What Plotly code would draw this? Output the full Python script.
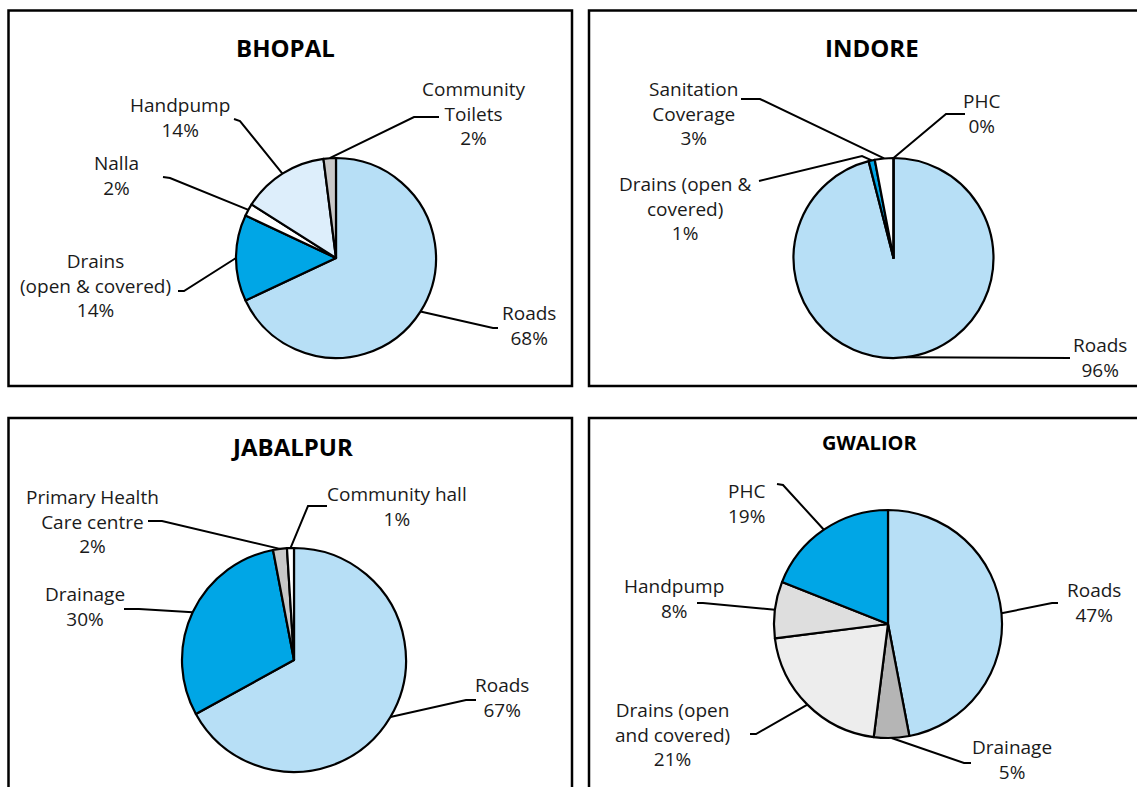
import math
import plotly.graph_objects as go

W, H = 1137, 787

# ---- data -------------------------------------------------------------
bhopal_cats = ["Roads", "Drains<br>(open & covered)", "Nalla", "Handpump", "Community<br>Toilets"]
bhopal_vals = [68, 14, 2, 14, 2]

indore_cats = ["Roads", "Drains (open &<br>covered)", "Sanitation<br>Coverage", "PHC"]
indore_vals = [96, 1, 3, 0]

jabalpur_cats = ["Roads", "Drainage", "Primary Health<br>Care centre", "Community hall"]
jabalpur_vals = [67, 30, 2, 1]

gwalior_cats = ["Roads", "Drainage", "Drains (open<br>and covered)", "Handpump", "PHC"]
gwalior_vals = [47, 5, 21, 8, 19]

# ---- styling / layout -------------------------------------------------
LIGHT_BLUE = "#b7dff6"
BLUE = "#00a6e6"
PALE_BLUE = "#ddeefb"
GREY = "#c8c8c8"

FONT = "Open Sans"
TXT = "#1a1a1a"
LABEL_SIZE = 19

panels = [
    dict(title="BHOPAL", tsize=24, tpos=(285, 47), c=(336, 258), r=100,
         cats=bhopal_cats, vals=bhopal_vals,
         colors=[LIGHT_BLUE, BLUE, "white", PALE_BLUE, GREY],
         labels=[((529, 325), [(498, 328), (493, 328)]),
                 ((95, 285), [(178, 291), (184, 291)]),
                 ((116, 175), [(163, 177), (170, 178)]),
                 ((180, 117), [(234, 119), (240, 121)]),
                 ((473, 113), [(439, 117), (414, 117)])]),
    dict(title="INDORE", tsize=24, tpos=(872, 47), c=(893.5, 258), r=100,
         cats=indore_cats, vals=indore_vals,
         colors=[LIGHT_BLUE, BLUE, "white", GREY],
         labels=[((1100, 357), [(1070, 358)]),
                 ((685, 208), [(759, 181), (862, 156)]),
                 ((693, 113), [(741, 99), (760, 99)]),
                 ((981, 113), [(965, 114), (946, 114)])]),
    dict(title="JABALPUR", tsize=24, tpos=(292, 446), c=(294, 660), r=112,
         cats=jabalpur_cats, vals=jabalpur_vals,
         colors=[LIGHT_BLUE, BLUE, GREY, "white"],
         labels=[((502, 697), [(476, 700), (466, 700)]),
                 ((85, 606), [(124, 609), (139, 609)]),
                 ((92, 521), [(148, 521), (162, 521)]),
                 ((397, 506), [(327, 506), (308, 506)])]),
    dict(title="GWALIOR", tsize=20, tpos=(869, 442), c=(888, 624), r=114,
         cats=gwalior_cats, vals=gwalior_vals,
         colors=[LIGHT_BLUE, "#b5b5b5", "#ededed", "#dedede", BLUE],
         labels=[((1094, 602), [(1058, 603), (1052, 603)]),
                 ((1012, 759), [(971, 763), (964, 763)]),
                 ((672, 734), [(750, 734), (756, 734)]),
                 ((674, 598), [(697, 603), (703, 603)]),
                 ((746, 503), [(777, 484), (783, 485)])]),
]

boxes = [(8.5, 10.5, 572, 386), (589, 10.5, 1160, 386),
         (8.5, 418, 572, 820), (589, 418, 1160, 820)]

fig = go.Figure()
annotations = []
shapes = []

for p in panels:
    cx, cy = p["c"]
    r = p["r"]
    vals = p["vals"]
    total = float(sum(vals))
    fig.add_trace(go.Pie(
        values=vals, labels=p["cats"], sort=False, direction="clockwise",
        rotation=0, textinfo="none", hoverinfo="label+percent",
        marker=dict(colors=p["colors"], line=dict(color="black", width=2.2)),
        domain=dict(x=[(cx - r) / W, (cx + r) / W],
                    y=[1 - (cy + r) / H, 1 - (cy - r) / H]),
        showlegend=False,
    ))
    annotations.append(dict(
        x=p["tpos"][0], y=p["tpos"][1], xref="x", yref="y",
        text=f"<b>{p['title']}</b>", showarrow=False,
        font=dict(family=FONT, size=p["tsize"], color="black"),
        xanchor="center", yanchor="middle"))

    # leader line from the label to the middle of its slice's outer edge
    cum = 0.0
    for cat, v, (tpos, pts) in zip(p["cats"], vals, p["labels"]):
        theta = math.radians(360.0 * (cum + v / 2.0) / total)
        cum += v
        ex = cx + r * math.sin(theta)
        ey = cy - r * math.cos(theta)
        xs = [q[0] for q in pts] + [ex]
        ys = [q[1] for q in pts] + [ey]
        fig.add_trace(go.Scatter(
            x=xs, y=ys, mode="lines", line=dict(color="black", width=2),
            hoverinfo="skip", showlegend=False, xaxis="x", yaxis="y"))
        pct = f"{round(v / total * 100):.0f}%"
        annotations.append(dict(
            x=tpos[0], y=tpos[1], xref="x", yref="y",
            text=f"{cat}<br>{pct}", showarrow=False, align="center",
            font=dict(family=FONT, size=LABEL_SIZE, color=TXT),
            xanchor="center", yanchor="middle"))

for (x0, y0, x1, y1) in boxes:
    shapes.append(dict(type="rect", xref="x", yref="y", x0=x0, y0=y0, x1=x1, y1=y1,
                       line=dict(color="black", width=2.5), fillcolor="rgba(0,0,0,0)",
                       layer="above"))

fig.update_layout(
    width=W, height=H, autosize=False,
    margin=dict(l=0, r=0, t=0, b=0),
    paper_bgcolor="white", plot_bgcolor="rgba(0,0,0,0)",
    xaxis=dict(range=[0, W], visible=False, fixedrange=True, domain=[0, 1]),
    yaxis=dict(range=[H, 0], visible=False, fixedrange=True, domain=[0, 1]),
    annotations=annotations, shapes=shapes,
    font=dict(family=FONT, color=TXT),
)

fig.write_html("out.html")
